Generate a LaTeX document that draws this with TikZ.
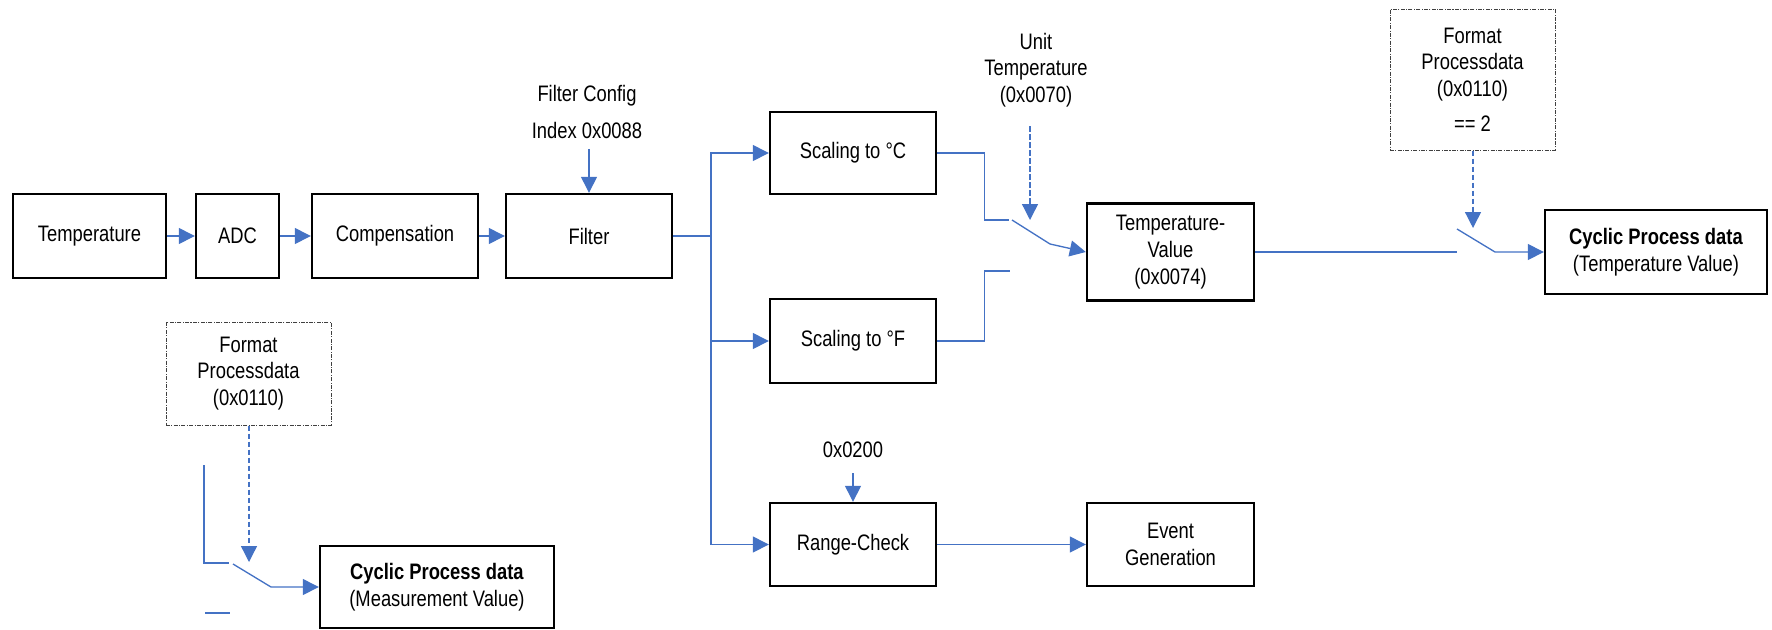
\documentclass[tikz,border=0pt]{standalone}
\usepackage{fontspec}
\setmainfont{Liberation Sans}[FakeStretch=0.82]
\usetikzlibrary{arrows.meta}
\definecolor{wireblue}{RGB}{68,114,196}

\begin{document}
\begin{tikzpicture}[x=0.75pt,y=-0.75pt,
  font=\fontsize{16.8}{20}\selectfont,
  blk/.style={draw,line width=1.8pt,inner sep=0pt,align=center,minimum height=63pt},
  cfg/.style={draw=black!75,line width=0.75pt,dash pattern=on 3pt off 1pt on 0.8pt off 1pt,inner sep=0pt,align=center},
  wire/.style={wireblue,line width=1pt},
  flow/.style={wire,-{Triangle[length=12pt,width=12pt]}},
  ctrl/.style={flow,dash pattern=on 4pt off 2pt}]
\useasboundingbox (0,0) rectangle (1772,629);

\node[blk,minimum width=114.75pt] (T) at (89.5,236) {Temperature};
\node[blk,minimum width=62.25pt] (ADC) at (237.5,236) {ADC};
\node[blk,minimum width=124.5pt] (COMP) at (395,236) {Compensation};
\node[blk,minimum width=124.5pt] (FIL) at (589,236) {Filter};
\node[align=center] (FC) at (587,112) {Filter Config\\[8pt]Index 0x0088};

\node[blk,minimum width=124.5pt,minimum height=61.5pt] (SC) at (853,153) {Scaling to °C};
\node[blk,minimum width=124.5pt] (SF) at (853,341) {Scaling to °F};
\node[blk,minimum width=124.5pt,minimum height=62.25pt] (RC) at (853,544.5) {Range-Check};
\node (LIM) at (853,450) {0x0200};
\node[align=center] (UT) at (1036,70) {Unit\\Temperature\\(0x0070)};

\node[blk,minimum width=125.25pt,minimum height=72.75pt] (TV) at (1170.5,252) {Temperature-\\Value\\(0x0074)};
\node[blk,minimum width=125.25pt,minimum height=62.25pt] (EV) at (1170.5,544.5) {Event\\Generation};
\node[blk,minimum width=166.5pt] (CPT) at (1656,252) {\textbf{Cyclic Process data}\\(Temperature Value)};
\node[cfg,minimum width=123.75pt,minimum height=105.75pt] (FPT) at (1472.5,79.5) {Format\\Processdata\\(0x0110)\\[6pt]== 2};

\node[blk,minimum width=175.5pt,minimum height=61.5pt] (CPM) at (437,587) {\textbf{Cyclic Process data}\\(Measurement Value)};
\node[cfg,minimum width=123.75pt,minimum height=77.25pt] (FPM) at (248.5,373.5) {Format\\Processdata\\(0x0110)};

\coordinate (BR) at (711,236);
\coordinate (SWC) at (1009,220);
\coordinate (SWF) at (1010,271);
\coordinate (ARMC) at (1012,220);
\coordinate (KNC) at (1050,244);
\coordinate (TIPC) at (1030,220);
\coordinate (SWT) at (1457,252);
\coordinate (ARMT) at (1457,229);
\coordinate (KNT) at (1495,252);
\coordinate (TIPT) at (1473,228);
\coordinate (INM) at (204,465);
\coordinate (SWM) at (229,563);
\coordinate (ARMM) at (233,564);
\coordinate (KNM) at (271,587);
\coordinate (TIPM) at (249,562);
\coordinate (STA) at (205,613);
\coordinate (STB) at (230,613);

\draw[flow] (T) -- (ADC);
\draw[flow] (ADC) -- (COMP);
\draw[flow] (COMP) -- (FIL);
\draw[flow,shorten <=4pt] (FC.south -| FIL.north) -- (FIL.north);
\draw[wire] (FIL) -- (BR);
\draw[flow] (BR) |- (SC);
\draw[flow] (BR) |- (SF);
\draw[flow] (BR) |- (RC);
\draw[flow,shorten <=8pt] (LIM.south) -- (RC.north);
\draw[flow] (RC) -- (EV);

\draw[wire] (SC.east) -- ++(47,0) |- (SWC);
\draw[wire] (SF.east) -- ++(47,0) |- (SWF);
\draw[flow] (ARMC) -- (KNC) -- (TV.west);
\draw[ctrl,shorten <=11pt] (UT.south -| TIPC) -- (TIPC);

\draw[wire] (TV) -- (SWT);
\draw[flow] (ARMT) -- (KNT) -- (CPT);
\draw[ctrl] (FPT.south -| TIPT) -- (TIPT);

\draw[wire] (INM) |- (SWM);
\draw[flow] (ARMM) -- (KNM) -- (CPM.west);
\draw[wire] (STA) -- (STB);
\draw[ctrl] (FPM.south -| TIPM) -- (TIPM);
\end{tikzpicture}
\end{document}
